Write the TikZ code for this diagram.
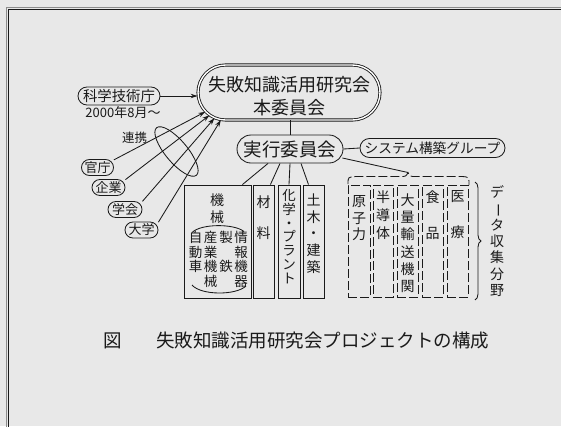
\documentclass[tikz,border=0pt]{standalone}
\usepackage{fontspec}
\setmainfont{Noto Sans CJK JP}
\usetikzlibrary{shapes.misc,shapes.geometric,arrows.meta,decorations.pathreplacing}
\definecolor{bg}{HTML}{E8E8E8}
\definecolor{ink}{HTML}{1A1A1A}
\newcommand\fsz[2]{\fontsize{#1}{#2}\selectfont}
\newcommand\vbar{\rotatebox[origin=c]{-90}{ー}}
\begin{document}
\begin{tikzpicture}[x=1pt,y=-1pt,
  ln/.style={draw=ink, line width=0.85pt},
  pill/.style={ln, rectangle, inner sep=0pt, text=ink},
  sbox/.style={ln, rectangle, inner sep=0pt, minimum height=113},
  dbox/.style={ln, rectangle, inner sep=0pt, minimum height=112, dash pattern=on 9pt off 3pt},
  vt/.style={align=center, inner sep=0pt, text=ink},
  arr/.style={ln, -{Stealth[length=7pt,width=4.5pt]}},
  plain/.style={inner sep=0pt, text=ink}
]
\path[use as bounding box, fill=bg] (0,0) rectangle (561,426);
% frame
\draw[black!45, line width=0.5pt] (5.8,600) -- (5.8,6.8) -- (600,6.8);
\draw[ink, line width=1.4pt] (8.7,600) -- (8.7,9.4) -- (600,9.4);

% main committee
\node[ln, rounded rectangle, double, double distance=1.4pt, inner sep=0pt,
      minimum width=182, minimum height=55] (main) at (289,92.5) {};
\node[vt, font=\fsz{18}{23}] (maintxt) at (289,96.5) {失敗知識活用研究会\\本委員会};

% executive committee and system group
\node[pill, rounded corners=14pt, minimum width=106, minimum height=28,
      font=\fsz{18.5}{20}] (exec) at (290,149) {実行委員会};
\node[pill, rounded corners=9.5pt, minimum width=145, minimum height=19,
      font=\fsz{13.7}{15}] (sys) at (432.5,148) {システム構築グループ};
\draw[ln] (exec.north) -- (exec.north |- main.south);
\draw[ln] (exec.east) -- (sys.west);

% left side
\node[pill, rounded corners=9pt, minimum width=82, minimum height=18,
      font=\fsz{14.4}{16}] (kagi) at (119,96) {科学技術庁};
\node[plain, font=\fsz{13}{15}] (date) at (123,113) {2000年8月～};
\node[plain, font=\fsz{12.5}{14}] (renkei) at (134.5,138) {連携};
\node[pill, rounded corners=8pt, minimum width=32, minimum height=16,
      font=\fsz{13}{14}] (kancho) at (97.5,167.5) {官庁};
\node[pill, rounded corners=8pt, minimum width=33, minimum height=16,
      font=\fsz{13}{14}] (kigyo) at (108.5,187.5) {企業};
\node[pill, rounded corners=8pt, minimum width=34, minimum height=16,
      font=\fsz{13}{14}] (gakkai) at (125,209.5) {学会};
\node[pill, rounded corners=8pt, minimum width=33, minimum height=16,
      font=\fsz{13}{14}] (daigaku) at (141.5,230) {大学};
\draw[arr] (kagi.east) -- (kagi.east -| main.west);
\draw[arr] (kancho.25) -- (main.193);
\draw[arr] (kigyo.25) -- (main.196);
\draw[arr] (gakkai.25) -- (main.199);
\draw[arr] (daigaku.25) -- (main.202);
\node[ln, ellipse, inner sep=0pt, minimum width=62, minimum height=22, rotate=-50] (loop) at (176.5,151.5) {};

% solid columns
\node[sbox, minimum width=67] (kikai) at (217.5,241.5) {};
\node[sbox, minimum width=21] (zai) at (263.5,241.5) {};
\node[sbox, minimum width=22] (kag) at (289,241.5) {};
\node[sbox, minimum width=21] (dob) at (313.5,241.5) {};
\draw[ln] ([xshift=-22pt]exec.south) -- ([xshift=-9pt]kikai.north east);
\draw[ln] ([xshift=-10pt]exec.south) -- ([xshift=-4pt]zai.north east);
\draw[ln] (exec.south) -- (kag.north);
\draw[ln] ([xshift=11pt]exec.south) -- ([xshift=-5pt]dob.north);

\node[vt, font=\fsz{14}{17}] (kikaiT) at (217,208.5) {機\\械};
\draw[ln] (192,232.5) .. controls (201,223.5) and (234,223.5) .. (244,231.5);
\draw[ln] (192,285) .. controls (201,295.5) and (236,295.5) .. (246,286);
\node[vt, font=\fsz{13.5}{14.5}] (c1) at (195.5,252) {自\\動\\車};
\node[vt, font=\fsz{13.5}{14.5}] (c2) at (210.5,259.3) {産\\業\\機\\械};
\node[vt, font=\fsz{13.5}{14.5}] (c3) at (226,252) {製\\\mbox{}\\鉄};
\node[vt, font=\fsz{13.5}{14.5}] (c4) at (241,259.3) {情\\報\\機\\器};
\node[vt, font=\fsz{14}{15.5}] (zaiT) at (263.5,217.5) {材\\\mbox{}\\料};
\node[vt, font=\fsz{13.5}{13.8}] (kagT) at (289,236.5) {化\\学\\・\\プ\\ラ\\ン\\ト};
\node[vt, font=\fsz{14}{16.75}] (dobT) at (313.5,233.5) {土\\木\\・\\建\\築};

% dashed columns
\node[dbox, minimum width=22] (d1) at (359,241) {};
\node[dbox, minimum width=20] (d2) at (383,241) {};
\node[dbox, minimum width=21] (d3) at (407.5,241) {};
\node[dbox, minimum width=21] (d4) at (432.5,241) {};
\node[dbox, minimum width=21] (d5) at (457.5,241) {};
\node[vt, font=\fsz{14}{16.5}] (d1T) at (359,218.5) {原\\子\\力};
\node[vt, font=\fsz{14}{18}] (d2T) at (383,215) {半\\導\\体};
\node[vt, font=\fsz{14}{17.3}] (d3T) at (407.5,243.3) {大\\量\\輸\\送\\機\\関};
\node[vt, font=\fsz{14}{18}] (d4T) at (432.5,215) {食\\\mbox{}\\品};
\node[vt, font=\fsz{14}{18}] (d5T) at (457.5,215) {医\\\mbox{}\\療};
\coordinate (apex) at (408,172.5);
\draw[ln] ([xshift=-1pt,yshift=-9pt]exec.east) -- (apex);
\draw[ln, dash pattern=on 9pt off 3pt] (348,184) .. controls (348,177) .. (356,176.5) -- (400,176.5)
   .. controls (406,176.5) .. (apex) .. controls (410,176.5) .. (416,176.5) -- (462,176.5)
   .. controls (469,177) .. (469,185);
\draw[ln, decorate, decoration={brace, amplitude=6pt}] (475,182) -- (475,300);
\node[vt, font=\fsz{14}{16.3}] (field) at (497,241) {デ\\\vbar\\タ\\収\\集\\分\\野};

% caption
\node[plain, font=\fsz{18.5}{20}] (zu) at (112.5,341) {図};
\node[plain, anchor=west, font=\fsz{18.5}{20}] (cap) at (156,341) {失敗知識活用研究会プロジェクトの構成};
\end{tikzpicture}
\end{document}
